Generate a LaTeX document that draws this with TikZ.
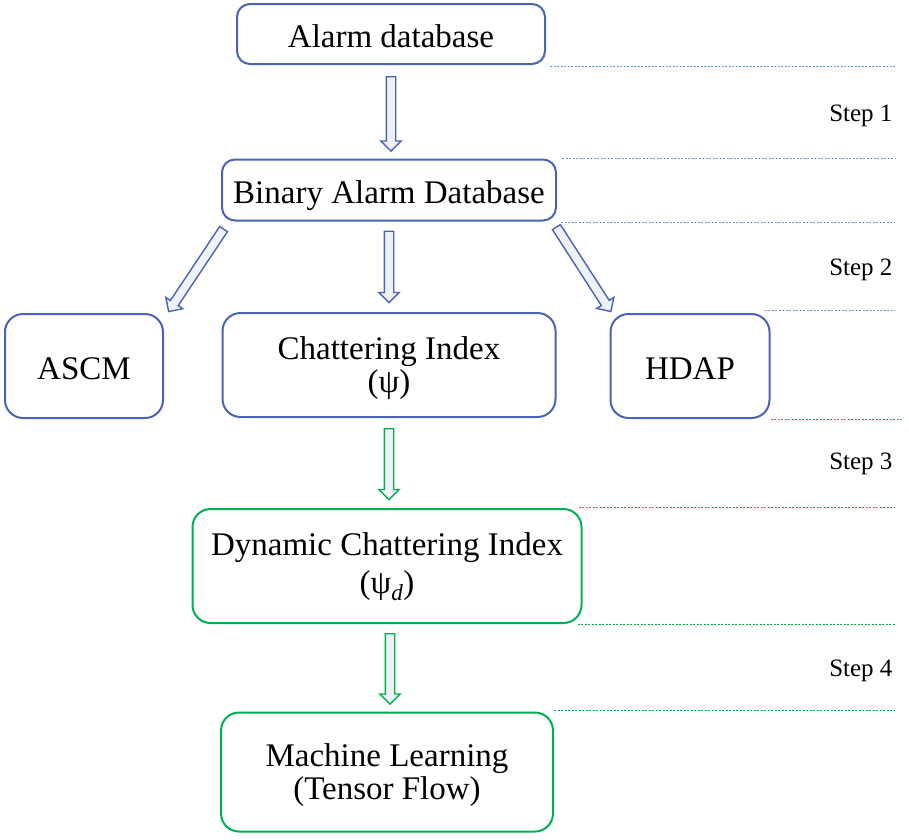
\documentclass[tikz,border=0pt]{standalone}
\usepackage{fontspec}
\setmainfont{Liberation Serif}
\usepackage{tikz}
\usetikzlibrary{shapes,arrows,arrows.meta,positioning,calc}

\definecolor{boxblue}{RGB}{72,100,178}
\definecolor{boxgreen}{RGB}{0,176,80}
\definecolor{lineblue}{RGB}{91,155,213}
\definecolor{arrowfill}{RGB}{238,241,248}

% hollow block arrow from #2 to #3
\newcommand{\blockarrow}[3][boxblue]{%
  \path let \p1=(#2), \p2=(#3), \n1={atan2(\y2-\y1,\x2-\x1)}, \n2={veclen(\x2-\x1,\y2-\y1)} in
    node[fatarrow, draw=#1, minimum height=\n2, rotate=\n1, anchor=tail] at (\p1) {};%
}

\begin{document}
\begin{tikzpicture}[
    x=1pt, y=-1pt,
    stage/.style={rectangle, draw=boxblue, line width=2pt, rounded corners=13pt, align=center,
      font=\fontsize{33}{33}\selectfont,
      execute at begin node={\rule{0pt}{35pt}}, execute at end node={\rule[-8pt]{0pt}{8pt}}},
    bigstage/.style={stage, rounded corners=18pt},
    twoline/.style={text height=54pt, text depth=0pt},
    greenstage/.style={bigstage, twoline, draw=boxgreen},
    fatarrow/.style={single arrow, fill=arrowfill, line width=1.4pt, inner xsep=0pt, inner ysep=4pt, minimum width=0pt, single arrow head extend=5.5pt},
    sepline/.style={line width=1pt, dash pattern=on 2pt off 1.5pt, draw=lineblue},
    sepgreen/.style={sepline, draw=boxgreen},
    steplabel/.style={anchor=east, font=\fontsize{25}{30}\selectfont}
]
    \useasboundingbox (0,0) rectangle (909,839);

    \node [stage, minimum width=308pt, minimum height=60pt] (alarm) at (391,34) {Alarm database};
    \node [stage, minimum width=334pt, minimum height=61pt] (binary) at (389,190) {Binary Alarm Database};
    \node [bigstage, twoline, minimum width=333pt, minimum height=104pt] (chat) at (389,365) {Chattering Index\\(ψ)};
    \node [bigstage, minimum width=158pt, minimum height=104pt] (ascm) at (84,366) {ASCM};
    \node [bigstage, minimum width=159pt, minimum height=104pt] (hdap) at (690,366) {HDAP};
    \node [greenstage, minimum width=389pt, minimum height=114pt] (dyn) at (387,566) {Dynamic Chattering Index\\[5pt](ψ\textsubscript{\itshape d})};
    \node [greenstage, minimum width=332pt, minimum height=119pt] (ml) at (387,772) {Machine Learning\\(Tensor Flow)};

    % block arrows
    \blockarrow{$(alarm.south)+(0,11)$}{$(alarm.south |- binary.north)+(0,-8)$}
    \blockarrow{$(binary.south west)+(3,7)$}{$(ascm.north east)+(5,-2)$}
    \blockarrow{$(binary.south)+(0,9)$}{$(chat.north)+(0,-10)$}
    \blockarrow{$(binary.south east)+(-1,5)$}{$(hdap.north west)+(1,-2)$}
    \blockarrow[boxgreen]{$(chat.south)+(0,10)$}{$(chat.south |- dyn.north)+(0,-9)$}
    \blockarrow[boxgreen]{$(dyn.south)+(3,9)$}{$(dyn.south |- ml.north)+(3,-8)$}

    % step separators
    \coordinate (rim) at (895,0);
    \draw [sepline] ($(alarm.south east)+(4,1)$) -- (rim |- {$(alarm.south east)+(4,1)$});
    \draw [sepline] ($(binary.north east)+(5,0)$) -- (rim |- binary.north east);
    \draw [sepline] ($(binary.south east)+(4,1)$) -- (rim |- {$(binary.south east)+(4,1)$});
    \draw [sepline] ($(hdap.north east)+(-6,-3)$) -- (rim |- {$(hdap.north east)+(-6,-3)$});
    \draw [sepgreen] (hdap.south east) -- ++(132,0);
    \draw [sepgreen] ($(dyn.north east)+(-4,-1)$) -- (rim |- {$(dyn.north east)+(-4,-1)$});
    \draw [sepgreen] ($(dyn.south east)+(-5,0)$) -- (rim |- dyn.south east);
    \draw [sepgreen] ($(ml.north east)+(0,-1)$) -- (rim |- {$(ml.north east)+(0,-1)$});

    \node [steplabel] (step1) at (896,116) {Step 1};
    \node [steplabel] (step2) at (896,270) {Step 2};
    \node [steplabel] (step3) at (896,464) {Step 3};
    \node [steplabel] (step4) at (896,671) {Step 4};
\end{tikzpicture}
\end{document}
